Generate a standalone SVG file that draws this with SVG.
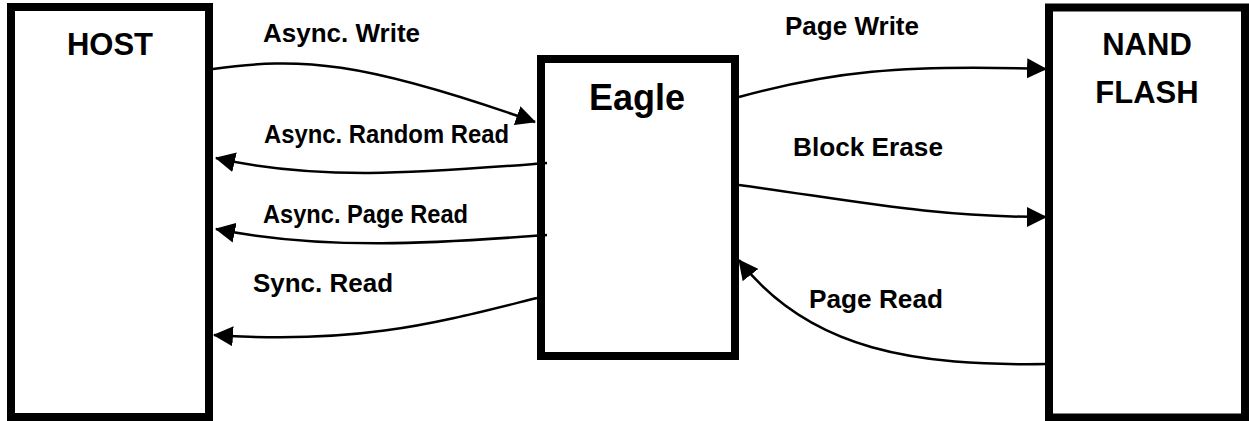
<svg xmlns="http://www.w3.org/2000/svg" width="1249" height="421" viewBox="0 0 1249 421">
<style>
.box{fill:#fff;stroke:#000;stroke-width:8}
.title{font-family:"Liberation Sans",Arial,sans-serif;font-weight:bold;fill:#000;text-anchor:middle}
.lbl{font-family:"Liberation Sans",Arial,sans-serif;font-weight:bold;font-size:25px;fill:#000}
.conn{fill:none;stroke:#000;stroke-width:2.5}
</style>
<defs>
<marker id="arr" markerUnits="userSpaceOnUse" markerWidth="20" markerHeight="20" refX="19" refY="10" orient="auto">
<path d="M0,0 L20,10 L0,20 z" fill="#000"/>
</marker>
</defs>
<rect width="1249" height="421" fill="#fff"/>
<g id="host">
<rect class="box" x="11" y="7" width="198" height="410"/>
<text class="title" x="110" y="55" font-size="31">HOST</text>
</g>
<g id="eagle">
<rect class="box" x="541" y="59" width="194" height="297"/>
<text class="title" x="637" y="110" font-size="36">Eagle</text>
</g>
<g id="nand">
<rect class="box" x="1049" y="7.5" width="196" height="410"/>
<text class="title" x="1147" y="55" font-size="31">NAND</text>
<text class="title" x="1147" y="103" font-size="31">FLASH</text>
</g>
<g id="connectors">
<path class="conn" marker-end="url(#arr)" d="M213,69 C300,57 360,60 535,122"/>
<path class="conn" marker-end="url(#arr)" d="M547,163 C430,172 320,182 216,158"/>
<path class="conn" marker-end="url(#arr)" d="M547,235 C450,242 330,252 216,229"/>
<path class="conn" marker-end="url(#arr)" d="M537,298 C440,322 360,345 214,335"/>
<path class="conn" marker-end="url(#arr)" d="M739,97 C830,72 900,64 1046,69"/>
<path class="conn" marker-end="url(#arr)" d="M739,185 C850,200 930,217 1046,217"/>
<path class="conn" marker-end="url(#arr)" d="M1046,364 C920,366 810,352 739,260"/>
</g>
<g id="labels">
<text class="lbl" x="263" y="42" textLength="157" lengthAdjust="spacingAndGlyphs">Async. Write</text>
<text class="lbl" x="264" y="143" textLength="245" lengthAdjust="spacingAndGlyphs">Async. Random Read</text>
<text class="lbl" x="263" y="223" textLength="205" lengthAdjust="spacingAndGlyphs">Async. Page Read</text>
<text class="lbl" x="253" y="292" textLength="140" lengthAdjust="spacingAndGlyphs">Sync. Read</text>
<text class="lbl" x="785" y="35" textLength="134" lengthAdjust="spacingAndGlyphs">Page Write</text>
<text class="lbl" x="793" y="156" textLength="150" lengthAdjust="spacingAndGlyphs">Block Erase</text>
<text class="lbl" x="809" y="308" textLength="134" lengthAdjust="spacingAndGlyphs">Page Read</text>
</g>
</svg>
